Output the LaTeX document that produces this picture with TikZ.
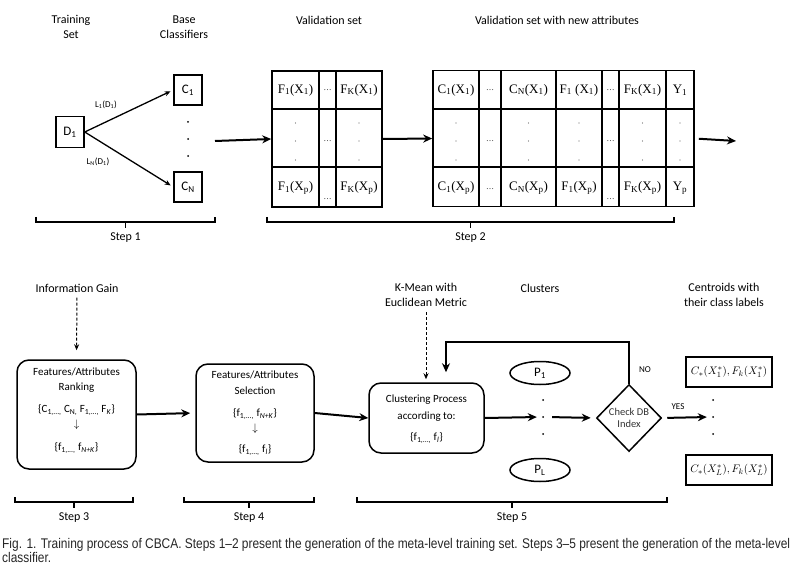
\documentclass[tikz,border=0pt]{standalone}
\usepackage{fontspec}
\setmainfont{Carlito}
\newfontfamily\tabfont{Liberation Serif}
\newfontfamily\capfont{Liberation Sans}
\usepackage{graphicx}
\usetikzlibrary{shapes.geometric,arrows.meta}
\tikzset{>={Stealth[length=6pt,width=5pt]}}
\newcommand\setsz{\fontsize{11}{12}\selectfont}

\begin{document}
\begin{tikzpicture}[x=1pt,y=-1pt,
  lbl/.style={font=\fontsize{12}{15}\selectfont, align=center},
  tiny/.style={font=\fontsize{9}{10}\selectfont, inner sep=1pt},
  sq/.style={draw, line width=1.5pt, minimum width=28pt, minimum height=30pt, inner sep=0pt, font=\fontsize{13}{15}\selectfont},
  grid/.style={draw, line width=1.6pt, inner sep=0pt},
  cellt/.style={font=\tabfont\fontsize{13}{15}\selectfont, inner sep=0pt},
  gap/.style={font=\tabfont\fontsize{8}{9}\selectfont, inner sep=0pt},
  flow/.style={-{Stealth[length=9pt,width=8pt]}, line width=2pt},
  hint/.style={->, densely dashed, line width=1pt},
  stage/.style={draw, rounded corners=12pt, line width=1.5pt, inner sep=0pt},
  stagetxt/.style={align=center, font=\fontsize{11}{15}\selectfont, inner sep=0pt},
  clu/.style={draw, ellipse, line width=1.5pt, minimum width=60pt, minimum height=23pt, inner sep=0pt, font=\fontsize{13}{15}\selectfont},
  cent/.style={draw, line width=1.5pt, minimum width=86pt, minimum height=30pt, inner sep=0pt, font=\fontsize{11}{13}\selectfont},
  brk/.style={line width=1.5pt}
]
\useasboundingbox (0,0) rectangle (795,577);

% step 1
\node[lbl] (ts) at (71,27) {Training\\Set};
\node[lbl] (bc) at (184,27) {Base\\Classifiers};
\node[sq, minimum height=31pt] (d1) at (70,132) {D\textsubscript{1}};
\node[sq] (c1) at (188,90) {C\textsubscript{1}};
\node[sq] (cn) at (188,187) {C\textsubscript{N}};
\foreach \y in {122,139,156} \fill (188,\y) circle (1pt);
\draw[->, line width=1.3pt, shorten >=3pt] (d1.east) -- (c1.west);
\draw[->, line width=1.3pt, shorten >=3pt] (d1.east) -- (cn.west);
\node[tiny] (l1) at (106,105) {L\textsubscript{1}(D\textsubscript{1})};
\node[tiny] (ln) at (98,162) {L\textsubscript{N}(D\textsubscript{1})};
\coordinate (s1) at (215,141);

% step 2: validation set
\node[lbl] (vt) at (329,20) {Validation set};
\node[grid, minimum width=110pt, minimum height=136pt] (vset) at (327,139) {};
\draw[line width=1.6pt] (319,71) -- (319,207) (336,71) -- (336,207)
  (272,109) -- (382,109) (272,167) -- (382,167);
\node[cellt] at (295.5,90) {F\textsubscript{1}(X\textsubscript{1})};
\node[gap] at (327.5,90) {\dots};
\node[cellt] at (359,90) {F\textsubscript{K}(X\textsubscript{1})};
\foreach \x in {295.5,359} \foreach \y in {123,141,160} \fill[black!60] (\x,\y) circle (0.7pt);
\node[gap] at (327.5,141) {\dots};
\node[cellt] at (295.5,188) {F\textsubscript{1}(X\textsubscript{p})};
\node[gap] at (327.5,199) {\dots};
\node[cellt] at (359,188) {F\textsubscript{K}(X\textsubscript{p})};

% validation set with new attributes
\node[lbl] (nt) at (557,20) {Validation set with new attributes};
\node[grid, minimum width=261pt, minimum height=136pt] (nset) at (563.5,138.5) {};
\foreach \x in {479,501,556,602,619,666} \draw[line width=1.6pt] (\x,70.5) -- (\x,206.5);
\draw[line width=1.6pt] (433,109) -- (694,109) (433,167) -- (694,167);
\foreach \x/\t in {456/{C\textsubscript{1}(X\textsubscript{1})}, 528.5/{C\textsubscript{N}(X\textsubscript{1})},
  579/{F\textsubscript{1} (X\textsubscript{1})}, 642.5/{F\textsubscript{K}(X\textsubscript{1})}, 680/{Y\textsubscript{1}}}
  \node[cellt] at (\x,90) {\t};
\foreach \x/\t in {456/{C\textsubscript{1}(X\textsubscript{p})}, 528.5/{C\textsubscript{N}(X\textsubscript{p})},
  579/{F\textsubscript{1}(X\textsubscript{p})}, 642.5/{F\textsubscript{K}(X\textsubscript{p})}, 680/{Y\textsubscript{p}}}
  \node[cellt] at (\x,188) {\t};
\foreach \x in {456,528.5,579,642.5,680} \foreach \y in {123,141,160} \fill[black!60] (\x,\y) circle (0.7pt);
\foreach \x/\y in {490/90, 610.5/90, 490/141, 610.5/141, 490/189, 610.5/199} \node[gap] at (\x,\y) {\dots};
\coordinate (s2) at (736,141);

\draw[flow] (s1) -- (vset.west);
\draw[flow] (vset.east) -- (nset.west);
\draw[flow, shorten <=4pt] (nset.east) -- (s2);

% steps 3-5
\node[lbl] (ig) at (77,288) {Information Gain};
\node[stage, minimum width=119pt, minimum height=109pt] (rank) at (76.5,414.5) {};
\node[stagetxt] (ranktxt) at (76.5,410.5)
  {Features/Attributes\\Ranking\\[7pt]
   {\setsz\{C\textsubscript{1,...,} C\textsubscript{N,} F\textsubscript{1,...,} F\textsubscript{\textit{K}}\}}\\
   $\downarrow$\\[8pt]
   {\setsz\{f\textsubscript{1,...,} f\textsubscript{\textit{N+K}}\}}};
\node[stage, minimum width=118pt, minimum height=98pt] (sel) at (255,413) {};
\node[stagetxt] (seltxt) at (255,413)
  {Features/Attributes\\[1pt]Selection\\[7pt]
   {\setsz\{f\textsubscript{1,...,} f\textsubscript{\textit{N+K}}\}}\\
   $\downarrow$\\[6pt]
   {\setsz\{f\textsubscript{1,...,} f\textsubscript{\textit{l}}\}}};
\node[lbl] (km) at (426,295) {K-Mean with\\Euclidean Metric};
\node[stage, minimum width=115pt, minimum height=70pt] (clus) at (426.5,418) {};
\node[stagetxt] (clustxt) at (426.5,419)
  {Clustering Process\\[2pt]according to:\\[6pt]
   {\setsz\{f\textsubscript{1,...,} f\textsubscript{\textit{l}}\}}};
\node[lbl] (cl) at (540,288) {Clusters};
\node[clu] (p1) at (540,373) {P\textsubscript{1}};
\node[clu] (pl) at (540,470) {P\textsubscript{L}};
\node[inner sep=0pt, minimum size=8pt] (pmid) at (543,417) {};
\foreach \y in {400,417,434} \fill (543,\y) circle (1pt);
\node[draw, diamond, line width=1.5pt, minimum width=65pt, minimum height=67pt, inner sep=0pt,
  align=center, font=\fontsize{10.5}{12}\selectfont, text=black!80] (chk) at (629,418) {Check DB\\Index};
\node[lbl] (ce) at (724,295) {Centroids with\\their class labels};
\node[cent] (cen1) at (729,372) {$C_{*}(X_1^{*}),F_{k}(X_1^{*})$};
\node[cent] (cenl) at (729,470) {$C_{*}(X_L^{*}),F_{k}(X_L^{*})$};
\node[inner sep=0pt, minimum size=8pt] (cmid) at (713,417) {};
\foreach \y in {400,417,434} \fill (713,\y) circle (1pt);
\coordinate (back) at (446,342);

\draw[hint, shorten <=2pt, shorten >=9pt] (ig.south) -- (rank.north);
\draw[hint, shorten <=2pt, shorten >=3pt] (km.south) -- (km.south |- clus.north);
\draw[flow, shorten >=5pt] (rank.east) -- (sel.west);
\draw[flow] (sel.east) -- (clus.west);
\draw[flow, shorten >=2pt] (clus.east) -- (pmid.west);
\draw[flow, shorten <=5pt, shorten >=5pt] (pmid.east) -- (chk.west);
\draw[flow, shorten <=5pt, shorten >=2pt] (chk.east) -- (cmid.west);
\draw[flow, shorten >=10pt] (chk.north) |- (back) -- (back |- clus.north);
\node[tiny] (no) at (645,370) {NO};
\node[tiny] (yes) at (678,407) {YES};

% step brackets
\foreach \a/\b/\y/\n in {36/215/217/1, 267/674/217/2, 15/133/497/3, 184/314/497/4, 357/667/497/5} {
  \draw[brk] (\a,\y) -- (\a,\y+5) -- (\b,\y+5) -- (\b,\y);
  \draw[brk] ({(\a+\b)/2},\y+5) -- ({(\a+\b)/2},\y+11);
  \node[lbl] (step\n) at ({(\a+\b)/2},\y+21) {Step \n};
}

% caption
\node[anchor=north west, inner sep=0pt, text=black!85] (cap) at (2,538)
  {\resizebox{788pt}{\height}{\capfont\fontsize{14}{14}\selectfont\begin{tabular}{@{}l@{}}
   Fig. 1. Training process of CBCA. Steps 1–2 present the generation of the meta-level training set. Steps 3–5 present the generation of the meta-level\\
   classifier.\end{tabular}}};
\end{tikzpicture}
\end{document}
